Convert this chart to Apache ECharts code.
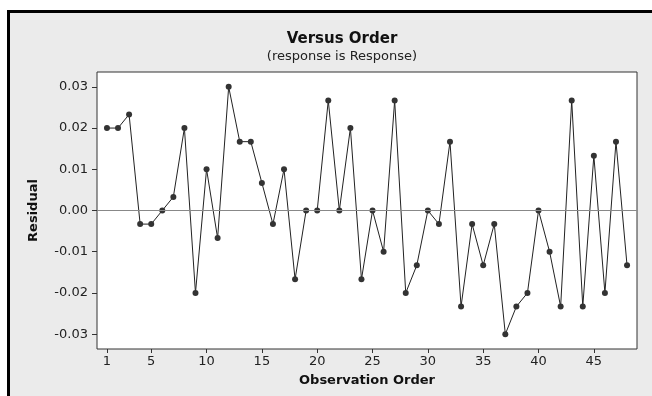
<!DOCTYPE html>
<html>
<head>
<meta charset="utf-8">
<script src="https://cdn.jsdelivr.net/npm/echarts@6/dist/echarts.min.js"></script>
<style>
html,body{margin:0;padding:0;background:#fff;}
#chart{width:652px;height:396px;}
</style>
</head>
<body>
<div id="chart"></div>
<script>
const observations = [1,2,3,4,5,6,7,8,9,10,11,12,13,14,15,16,17,18,19,20,21,22,23,24,25,26,27,28,29,30,31,32,33,34,35,36,37,38,39,40,41,42,43,44,45,46,47,48];
const residuals = [0.020,0.020,0.0233,-0.0033,-0.0033,0.000,0.0033,0.020,-0.020,0.010,-0.0067,0.030,0.0167,0.0167,0.0067,-0.0033,0.010,-0.0167,0.000,0.000,0.0267,0.000,0.020,-0.0167,0.000,-0.010,0.0267,-0.020,-0.0133,0.000,-0.0033,0.0167,-0.0233,-0.0033,-0.0133,-0.0033,-0.030,-0.0233,-0.020,0.000,-0.010,-0.0233,0.0267,-0.0233,0.0133,-0.020,0.0167,-0.0133];
const xTicks = [1,5,10,15,20,25,30,35,40,45];
const yTicks = [-0.03,-0.02,-0.01,0.00,0.01,0.02,0.03];
const titleText = 'Versus Order';
const subtitleText = '(response is Response)';
const xName = 'Observation Order';
const yName = 'Residual';

const FONT = 'DejaVu Sans';
const chart = echarts.init(document.getElementById('chart'), null, {renderer:'canvas'});
chart.setOption({
  animation:false,
  backgroundColor:'#ffffff',
  graphic:[
    {type:'rect', z:-10, shape:{x:8.5,y:11.5,width:700,height:420}, style:{fill:'#ebebeb', stroke:'#000', lineWidth:3}}
  ],
  title:{
    text:titleText, subtext:subtitleText, left:337, top:27, textAlign:'center', itemGap:3,
    textStyle:{fontFamily:FONT, fontSize:15, fontWeight:'bold', color:'#111'},
    subtextStyle:{fontFamily:FONT, fontSize:13, color:'#222'}
  },
  grid:{left:97, top:72, right:15, bottom:47, show:true, backgroundColor:'#fff', borderColor:'#333', borderWidth:1},
  xAxis:{
    type:'value', min:0.1, max:48.9, position:'bottom',
    name:xName, nameLocation:'middle', nameGap:25,
    nameTextStyle:{fontFamily:FONT, fontSize:13, fontWeight:'bold', color:'#111'},
    axisLine:{show:false, onZero:false},
    splitLine:{show:false},
    axisTick:{show:true, customValues:xTicks, length:4, lineStyle:{color:'#333'}},
    axisLabel:{customValues:xTicks, fontFamily:FONT, fontSize:13, color:'#222', margin:6}
  },
  yAxis:{
    type:'value', min:-0.0336, max:0.0336, position:'left',
    name:yName, nameLocation:'middle', nameGap:57, nameRotate:90,
    nameTextStyle:{fontFamily:FONT, fontSize:13, fontWeight:'bold', color:'#111'},
    axisLine:{show:false, onZero:false},
    splitLine:{show:false},
    axisTick:{show:true, customValues:yTicks, length:5, lineStyle:{color:'#333'}},
    axisLabel:{customValues:yTicks, fontFamily:FONT, fontSize:13, color:'#222', margin:9,
      formatter:function(v){ return (Math.abs(v)<1e-9?0:v).toFixed(2); }}
  },
  series:[{
    type:'line',
    data:observations.map((o,i)=>[o,residuals[i]]),
    symbol:'circle', symbolSize:6,
    itemStyle:{color:'#333'},
    lineStyle:{color:'#222', width:1},
    markLine:{
      silent:true, symbol:'none', label:{show:false},
      lineStyle:{color:'#888', width:1, type:'solid'},
      data:[{yAxis:0}]
    },
    z:3
  }]
});
</script>
</body>
</html>
